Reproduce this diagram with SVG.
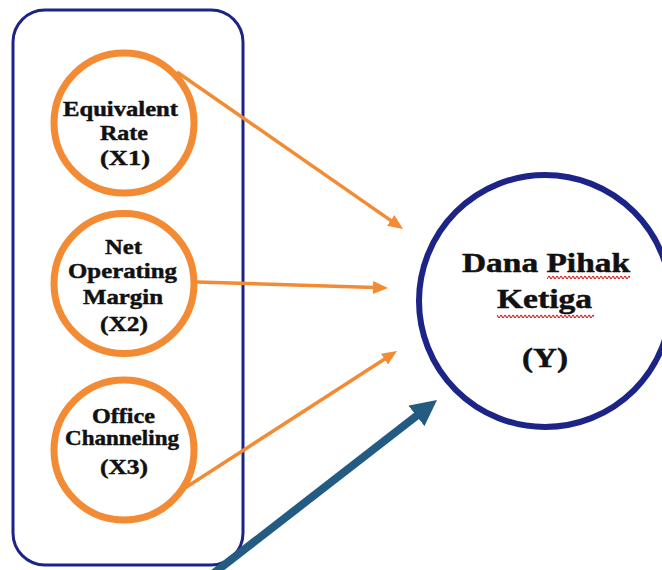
<svg xmlns="http://www.w3.org/2000/svg" width="662" height="570" viewBox="0 0 662 570">
  <style>
    .frame { fill: none; stroke: #1c2488; stroke-width: 3; }
    .xnode { fill: #ffffff; stroke: #f28b34; stroke-width: 7; }
    .ynode { fill: #ffffff; stroke: #1c2488; stroke-width: 6; }
    .lbl { font-family: "Liberation Serif", "Times New Roman", serif; font-weight: bold; font-size: 21px; fill: #111111; stroke: #111111; stroke-width: 0.45; text-anchor: middle; }
    .lbly { font-family: "Liberation Serif", "Times New Roman", serif; font-weight: bold; font-size: 28px; fill: #111111; stroke: #111111; stroke-width: 0.5; text-anchor: middle; }
    .orange { fill: none; stroke: #f28b34; stroke-width: 3.5; marker-end: url(#arrowOrange); }
    .blue { fill: none; stroke: #245b82; stroke-width: 8; marker-end: url(#arrowBlue); }
  </style>
  <defs>
    <marker id="arrowOrange" markerUnits="userSpaceOnUse" markerWidth="15" markerHeight="13" refX="10" refY="6.5" orient="auto">
      <path d="M0,0 L15,6.5 L0,13 z" fill="#f28b34"/>
    </marker>
    <marker id="arrowBlue" markerUnits="userSpaceOnUse" markerWidth="26" markerHeight="26" refX="16" refY="13" orient="auto">
      <path d="M0,0 L26,13 L0,26 z" fill="#245b82"/>
    </marker>
    <pattern id="squiggle" patternUnits="userSpaceOnUse" x="0" y="275" width="4" height="4">
      <path d="M0,2.5 Q1,0.3 2,2.5 T4,2.5" fill="none" stroke="#e02424" stroke-width="1.2"/>
    </pattern>
    <pattern id="squiggle2" patternUnits="userSpaceOnUse" x="0" y="314" width="4" height="4">
      <path d="M0,2.5 Q1,0.3 2,2.5 T4,2.5" fill="none" stroke="#e02424" stroke-width="1.2"/>
    </pattern>
  </defs>

  <g id="frame">
    <rect class="frame" x="13" y="10" width="230" height="555" rx="32" ry="32"/>
  </g>

  <g id="connectors">
    <path class="orange" d="M177,72 L398.9,226.1"/>
    <path class="orange" d="M197,282 L383,287.8"/>
    <path class="orange" d="M185,488 L392.8,353.7"/>
    <path class="blue" d="M214,573 L429.1,406.1"/>
  </g>

  <g id="x1">
    <circle class="xnode" cx="124" cy="123" r="70"/>
    <text class="lbl" x="120.5" y="116" textLength="115" lengthAdjust="spacingAndGlyphs">Equivalent</text>
    <text class="lbl" x="124" y="140" textLength="48" lengthAdjust="spacingAndGlyphs">Rate</text>
    <text class="lbl" x="125" y="165" textLength="50" lengthAdjust="spacingAndGlyphs">(X1)</text>
  </g>

  <g id="x2">
    <circle class="xnode" cx="124" cy="283.5" r="70"/>
    <text class="lbl" x="123.5" y="254" textLength="37" lengthAdjust="spacingAndGlyphs">Net</text>
    <text class="lbl" x="122.5" y="278" textLength="109" lengthAdjust="spacingAndGlyphs">Operating</text>
    <text class="lbl" x="123" y="304" textLength="80" lengthAdjust="spacingAndGlyphs">Margin</text>
    <text class="lbl" x="124" y="331" textLength="48" lengthAdjust="spacingAndGlyphs">(X2)</text>
  </g>

  <g id="x3">
    <circle class="xnode" cx="124" cy="450" r="70"/>
    <text class="lbl" x="123.5" y="423" textLength="63" lengthAdjust="spacingAndGlyphs">Office</text>
    <text class="lbl" x="122" y="445" textLength="114" lengthAdjust="spacingAndGlyphs">Channeling</text>
    <text class="lbl" x="124" y="474" textLength="48" lengthAdjust="spacingAndGlyphs">(X3)</text>
  </g>

  <g id="y">
    <circle class="ynode" cx="545" cy="301" r="126"/>
    <text class="lbly" x="546" y="272" textLength="168" lengthAdjust="spacingAndGlyphs">Dana Pihak</text>
    <rect x="547" y="275" width="83" height="4" fill="url(#squiggle)"/>
    <text class="lbly" x="544.5" y="308" textLength="95" lengthAdjust="spacingAndGlyphs">Ketiga</text>
    <rect x="497" y="314" width="97" height="4" fill="url(#squiggle2)"/>
    <text class="lbly" x="545" y="367" textLength="46" lengthAdjust="spacingAndGlyphs">(Y)</text>
  </g>
</svg>
